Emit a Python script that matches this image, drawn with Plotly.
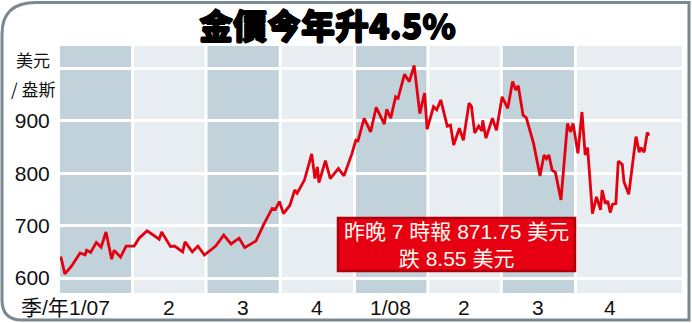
import plotly.graph_objects as go

# ---------------- data ----------------
dates = [
    "2007-01-02", "2007-01-07", "2007-01-15", "2007-01-26", "2007-02-01", "2007-02-03", "2007-02-08", "2007-02-15", "2007-02-21", "2007-02-27",
    "2007-03-06", "2007-03-09", "2007-03-17", "2007-03-24", "2007-04-03", "2007-04-09", "2007-04-19", "2007-04-28", "2007-05-04", "2007-05-07",
    "2007-05-18", "2007-05-23", "2007-06-02", "2007-06-05", "2007-06-14", "2007-06-21", "2007-06-29", "2007-07-13", "2007-07-23", "2007-08-01",
    "2007-08-11", "2007-08-18", "2007-09-01", "2007-09-11", "2007-09-21", "2007-09-25", "2007-09-30", "2007-10-05", "2007-10-13", "2007-10-19",
    "2007-10-22", "2007-10-31", "2007-11-09", "2007-11-13", "2007-11-16", "2007-11-18", "2007-11-26", "2007-12-02", "2007-12-12", "2007-12-19",
    "2007-12-29", "2008-01-03", "2008-01-05", "2008-01-13", "2008-01-21", "2008-01-28", "2008-02-07", "2008-02-10", "2008-02-15", "2008-02-21",
    "2008-02-24", "2008-03-03", "2008-03-09", "2008-03-15", "2008-03-22", "2008-03-28", "2008-03-31", "2008-04-08", "2008-04-12", "2008-04-17",
    "2008-04-25", "2008-04-29", "2008-05-03", "2008-05-10", "2008-05-15", "2008-05-22", "2008-05-25", "2008-05-29", "2008-06-03", "2008-06-07",
    "2008-06-08", "2008-06-12", "2008-06-20", "2008-06-25", "2008-07-02", "2008-07-09", "2008-07-15", "2008-07-19", "2008-07-22", "2008-07-28",
    "2008-08-01", "2008-08-10", "2008-08-18", "2008-08-23", "2008-08-26", "2008-08-29", "2008-09-02", "2008-09-06", "2008-09-13", "2008-09-21",
    "2008-09-25", "2008-09-28", "2008-10-04", "2008-10-09", "2008-10-13", "2008-10-16", "2008-10-22", "2008-10-27", "2008-11-01", "2008-11-03",
    "2008-11-07", "2008-11-10", "2008-11-13", "2008-11-16", "2008-11-20", "2008-11-23", "2008-11-28", "2008-11-30", "2008-12-06", "2008-12-15",
    "2008-12-19", "2008-12-21", "2008-12-25", "2008-12-29", "2008-12-31",
]
prices = [
    641, 608, 622, 648, 644, 653, 649, 668, 659, 688,
    636, 653, 640, 661, 661, 676, 690, 681, 674, 688,
    660, 661, 650, 669, 650, 661, 644, 661, 682, 665,
    676, 658, 671, 704, 733, 731, 746, 723, 739, 768,
    762, 787, 837, 790, 812, 782, 824, 790, 809, 795,
    838, 865, 860, 905, 879, 926, 894, 922, 905, 946,
    943, 989, 975, 1006, 914, 953, 884, 927, 921, 940,
    890, 892, 854, 886, 863, 934, 928, 877, 890, 881,
    901, 867, 905, 882, 946, 924, 975, 959, 967, 911,
    906, 857, 795, 835, 828, 835, 806, 802, 749, 895,
    879, 895, 838, 917, 835, 849, 723, 755, 730, 768,
    742, 747, 725, 741, 742, 823, 817, 784, 760, 870,
    840, 849, 840, 878, 871.75,
]

quarter_starts = ["2007-01-01", "2007-04-01", "2007-07-01", "2007-10-01",
                  "2008-01-01", "2008-04-01", "2008-07-01", "2008-10-01"]
axis_end = "2009-02-10"
quarter_label_pos = ["2007-02-06", "2007-05-16", "2007-08-16", "2007-11-15",
                     "2008-02-15", "2008-05-16", "2008-08-16", "2008-11-13"]
quarter_labels = ["1/07", "2", "3", "4", "1/08", "2", "3", "4"]
y_ticks = [600, 700, 800, 900, 1000]
y_tick_text = ["600", "700", "800", "900", ""]

title_text = "金價今年升4.5%"
unit_line1 = "美元"
unit_line2 = "/ 盎斯"
axis_prefix = "季/年"
note_text = "昨晚 7 時報 871.75 美元<br>跌 8.55 美元"

# ---------------- layout helpers ----------------
W, H = 692, 323
ML, MR, MT, MB = 60, 10, 46, 30
PW, PH = W - ML - MR, H - MT - MB


def fx(x):
    return (x - ML) / PW


def fy(y):
    return (H - MB - y) / PH


DARK = "#c1d2db"
LIGHT = "#e7edf1"
RED = "#e3000f"
LATIN = "Liberation Sans, Arial, Noto Sans CJK TC, sans-serif"
CJK = "Noto Sans CJK TC, Liberation Sans, sans-serif"
INK = "#111111"

fig = go.Figure()
fig.add_trace(go.Scatter(x=dates, y=prices, mode="lines",
                         line=dict(color=RED, width=2.8), hoverinfo="skip"))

shapes = []
bounds = quarter_starts + [axis_end]
for i in range(len(quarter_starts)):
    shapes.append(dict(type="rect", xref="x", yref="paper", x0=bounds[i], x1=bounds[i + 1],
                       y0=0, y1=1, fillcolor=DARK if i % 2 == 0 else LIGHT,
                       line=dict(width=0), layer="below"))
for q in quarter_starts[1:]:
    shapes.append(dict(type="line", xref="x", yref="paper", x0=q, x1=q, y0=0, y1=1,
                       line=dict(color="white", width=3), layer="below"))

# outer rounded frame
frame = (f"M {fx(2)},{fy(34)} Q {fx(2)},{fy(2.5)} {fx(36)},{fy(2.5)} "
         f"L {fx(689)},{fy(2.5)} L {fx(689)},{fy(320)} L {fx(22)},{fy(320)} "
         f"Q {fx(2)},{fy(320)} {fx(2)},{fy(300)} Z")
shapes.append(dict(type="path", xref="paper", yref="paper", path=frame,
                   line=dict(color="#7b8993", width=3), fillcolor="rgba(0,0,0,0)"))

# red note box
shapes.append(dict(type="rect", xref="paper", yref="paper",
                   x0=fx(338), x1=fx(575), y0=fy(271), y1=fy(218),
                   fillcolor="#e60012", line=dict(color="#b0000c", width=2.5), layer="above"))

annotations = [
    dict(xref="paper", yref="paper", x=fx(327), y=fy(24), text=title_text, showarrow=False,
         xanchor="center", yanchor="middle",
         font=dict(family=CJK, size=34, color="black", weight=900,
                   shadow="0.7px 0 0 #000, -0.7px 0 0 #000, 0 0.7px 0 #000, 0 -0.7px 0 #000")),
    dict(xref="paper", yref="paper", x=fx(33), y=fy(59), text=unit_line1, showarrow=False,
         xanchor="center", yanchor="middle", font=dict(family=CJK, size=17, color=INK)),
    dict(xref="paper", yref="paper", x=fx(33), y=fy(88), text=unit_line2, showarrow=False,
         xanchor="center", yanchor="middle", font=dict(family=CJK, size=17, color=INK)),
    dict(xref="paper", yref="paper", x=fx(457), y=fy(245), text=note_text, showarrow=False,
         xanchor="center", yanchor="middle",
         font=dict(family=LATIN, size=21, color="#fffaf0")),
]
# quarter labels under the plot
annotations.append(dict(xref="paper", yref="paper", x=fx(71), y=fy(307), text=axis_prefix,
                        showarrow=False, xanchor="right", yanchor="middle",
                        font=dict(family=LATIN, size=21, color=INK)))
for pos, lab in zip(quarter_label_pos, quarter_labels):
    annotations.append(dict(xref="x", yref="paper", x=pos, y=fy(307), text=lab,
                            showarrow=False, xanchor="center", yanchor="middle",
                            font=dict(family=LATIN, size=21, color=INK)))

fig.update_layout(
    width=W, height=H,
    margin=dict(l=ML, r=MR, t=MT, b=MB, pad=0),
    paper_bgcolor="white", plot_bgcolor=LIGHT,
    showlegend=False,
    shapes=shapes, annotations=annotations,
    xaxis=dict(type="date", range=[quarter_starts[0], axis_end],
               showticklabels=False, ticks="",
               showgrid=False, zeroline=False, showline=False),
    yaxis=dict(range=[571.4, 1043], tickmode="array", tickvals=y_ticks, ticktext=y_tick_text,
               showgrid=True, gridcolor="white", gridwidth=2.5, zeroline=False, showline=False,
               ticks="outside", ticklen=5, tickcolor="rgba(0,0,0,0)",
               tickfont=dict(family=LATIN, size=21, color=INK)),
)

fig.write_html("out.html")
